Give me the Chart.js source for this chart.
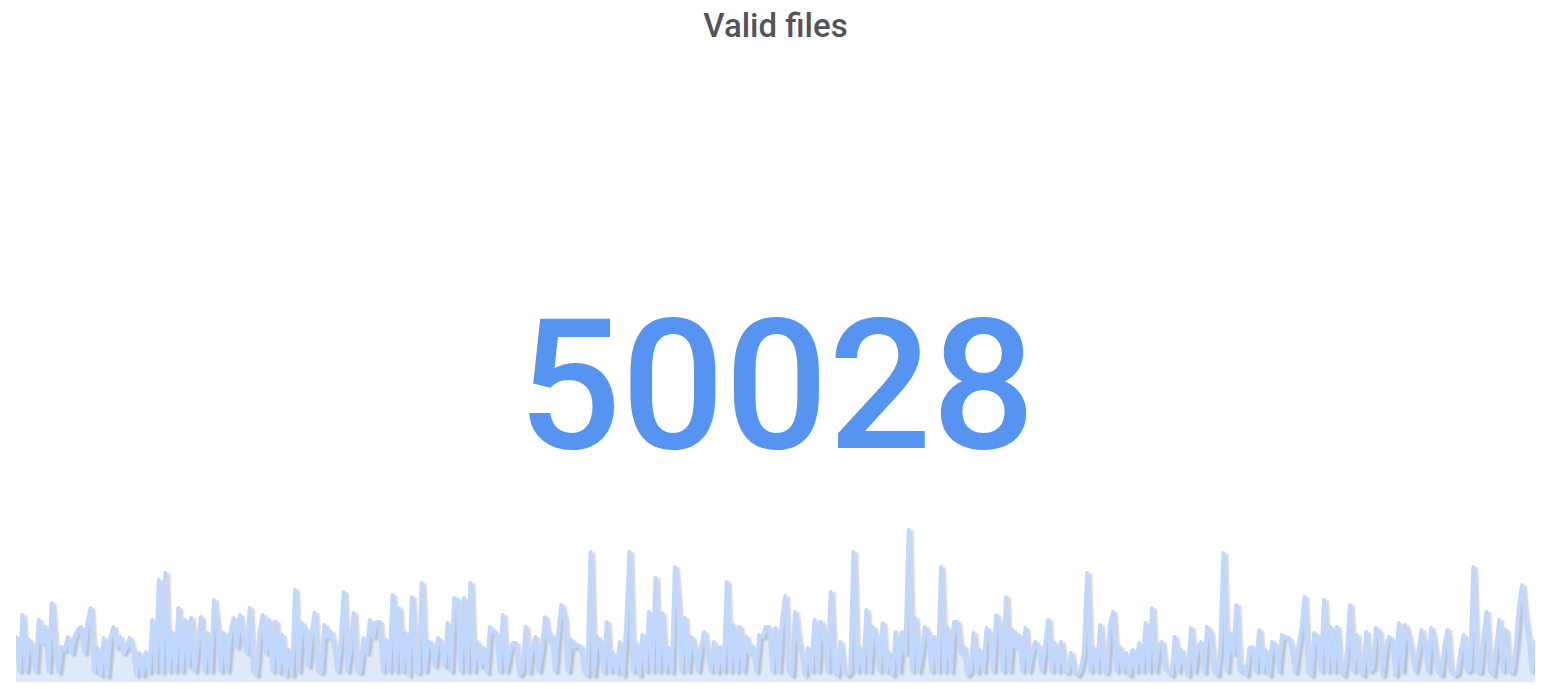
<!DOCTYPE html>
<html>
<head>
<meta charset="utf-8">
<script src="https://cdn.jsdelivr.net/npm/chart.js@4.4.0/dist/chart.umd.min.js"></script>
<style>
  html, body { margin: 0; padding: 0; background: #ffffff; width: 1545px; height: 689px; overflow: hidden; }
  #title { position: absolute; left: 3px; top: 9px; width: 1545px; text-align: center;
           font-family: Roboto, "Noto Sans", sans-serif; font-weight: 500; font-size: 33px; line-height: 33px; color: #52545c; }
  #stat { position: absolute; left: 4px; top: 295px; width: 1545px; text-align: center;
          font-family: Roboto, "Noto Sans", sans-serif; font-weight: 500; font-size: 182px; line-height: 182px; color: #5794f2; }
  #spark { position: absolute; left: 16px; top: 520px; width: 1519px; height: 162px; }
</style>
</head>
<body>
<div id="title"></div>
<div id="stat"></div>
<div id="spark"><canvas id="c"></canvas></div>
<script>
const panelTitle = "Valid files";
const statValue = 50028;

const seg1 = [45,11,67,11,42,35,11,62,39,55, 11,79,35,10,35,32,45,29,45,52,
  55,29,59,74,11,34,7,44,6,44, 55,35,45,29,35,44,32,7,29,7,
  30,10,62,11,102,10,109,11,50,11, 74,11,62,16,64,11,39,65,11,49,
  11,82,52,11,49,11,49,64,35,67, 45,29,74,11];
const seg2 = [7,50,67,29,62,11,60,10,47,7, 32,7,92,11,59,52,16,49,69,11,
  10,57,45,50,35,11,42,90,11,32, 69,11,10,44,29,62,45,60,60,11,
  42,11,87,11,74,11,49,7,85, 11,10,99,11,40,39,16,44,35,16,
  59,11,84,82,11,84,11,99,11,40, 16,34,10,55,49,49,11,67,11,29, 39];
const seg3 = [39,7,11,55,10,35,45,11,32,65, 42,47,11,49,77,62,11,42,35,37,
  35,11,7,130,7,45,39,10,60, 11,29,10,40,7,59,130,11,39,7,
  47,11,70,11,104,11,69,11,34,10, 115,75,11,64,11,45,35,11,34,
  50,29,11,40,10,35,11,100,11,57, 11,55,11,45,29,35,11,47,45,55];
const seg4 = [55,11,54,11,62,86,11,7,70,42, 29,7,34,11,62,11,60,45,11,90,
  11,7,40,11,7,10,130,11,34,11, 72,11,55,45,11,59,11,29,7,50,
  11,50,29,152,11,64,11,30,55, 49,11,45,11,115,11,54,11,60,60,
  29,35,7,11,49,10,32,11,54,49, 11,67,52,11,85,11,52,35,47];
const seg5 = [11,54,11,29,40,35,11,35,62,11, 39,11,40,11,10,29,11,7,13,29,109,
  11,34,11,57,11,10,57,70,11,35, 11,29,7,32,11,39,11,59,11,74,
  11,35,40,13,11,7,45,11,32,16,7,54, 11,35,40,10,55,49,11,7,34,129,
  11,49,29,77,11,16,7,34,35,11, 52,11,32,7,40,37,11,47];
const seg6 = [44,44,35,10,35,52,85,11,7,49, 45,11,82,11,55,11,55,11,7,29,
  77,11,47,11,7,50,11,14,54,50, 7,35,45,42,7,59,11,57,45,29,
  11,29,52,35,11,54,35,11,7, 35,52,11,7,9,29,47,11,13,115,
  11,10,42,70,11,7,35,62,11,52, 11,10,35,75,97,62,44,11,40];

const validFiles = [].concat(seg1, seg2, seg3, seg4, seg5, seg6);
const sampleLabels = validFiles.map((_, i) => String(i));

document.getElementById('title').textContent = panelTitle;
document.getElementById('stat').textContent = String(statValue);

const lineShadow = {
  id: 'lineShadow',
  beforeDatasetDraw(chart) {
    const ctx = chart.ctx;
    ctx.save();
    ctx.shadowColor = 'rgba(0,0,0,0.17)';
    ctx.shadowOffsetX = 3;
    ctx.shadowOffsetY = 2;
    ctx.shadowBlur = 2;
  },
  afterDatasetDraw(chart) { chart.ctx.restore(); }
};

new Chart(document.getElementById('c'), {
  type: 'line',
  data: {
    labels: sampleLabels,
    datasets: [{
      data: validFiles,
      borderColor: 'rgb(192, 216, 255)',
      backgroundColor: 'rgba(31, 96, 196, 0.14)',
      borderWidth: 4,
      borderJoinStyle: 'round',
      borderCapStyle: 'round',
      fill: 'origin',
      tension: 0,
      pointRadius: 0,
      clip: false
    }]
  },
  options: {
    responsive: true,
    maintainAspectRatio: false,
    animation: false,
    layout: { padding: 0 },
    plugins: { legend: { display: false }, tooltip: { enabled: false }, title: { display: false } },
    scales: {
      x: { display: false },
      y: { display: false, min: 0, max: 162 }
    }
  },
  plugins: [lineShadow]
});
</script>
</body>
</html>
